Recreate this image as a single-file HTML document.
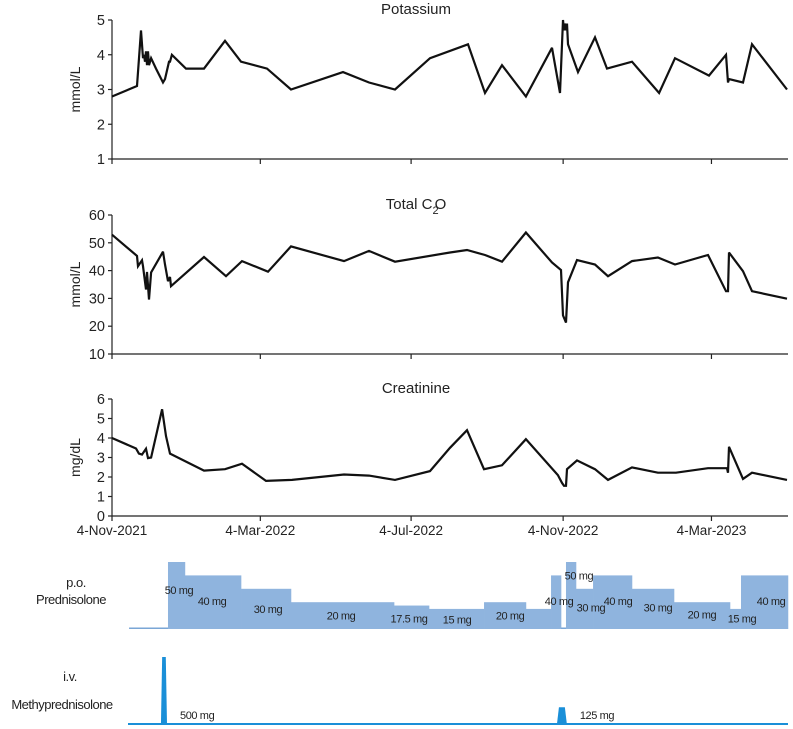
<!DOCTYPE html>
<html><head><meta charset="utf-8">
<style>
html,body{margin:0;padding:0;background:#fff;}
svg{display:block;font-family:"Liberation Sans",sans-serif;}
</style></head>
<body>
<svg id="chart" width="793" height="729" viewBox="0 0 793 729" xmlns="http://www.w3.org/2000/svg"></svg>
<script>
// ---- data (x values are days since 4-Nov-2021) ----
const kDays = [0,20.2,23.5,25.1,25.9,26.7,27.5,28.3,29.1,29.9,31.6,35.6,41.3,42.9,46.1,46.9,48.5,59.9,74.4,91.4,104.4,125.4,144.8,186.9,207.9,229,257.3,288,301.8,315.5,334.9,356,362.5,364.9,365.7,366.5,367.3,368.1,368.9,377,390.8,400.5,420.7,442.6,455.5,483,496.8,498.4,499.2,510.5,517.8,546.1];
const kVals = [2.8,3.1,4.7,3.9,4.0,3.8,4.1,3.7,4.1,3.7,3.9,3.6,3.2,3.3,3.8,3.8,4.0,3.6,3.6,4.4,3.8,3.6,3.0,3.5,3.2,3.0,3.9,4.3,2.9,3.7,2.8,4.2,2.9,5.0,4.7,4.9,4.7,4.9,4.3,3.5,4.5,3.6,3.8,2.9,3.9,3.4,4.0,3.2,3.3,3.2,4.3,3.0];
const co2Days = [0,20.2,21,24.3,25.1,27.5,28.3,29.9,31.6,41.3,42.9,45.3,46.9,47.7,74.4,92.2,105.2,126.2,144.8,187.7,207.9,229,273.5,287.2,301.8,315.5,334.9,356,363.3,364.9,367.3,368.9,376.2,390.8,401.3,420.7,441.7,455.5,482.2,496.8,498.4,499.2,510.5,517.8,546.1];
const co2Vals = [52.9,45.3,41.6,43.7,41.6,33.2,39.5,29.6,39.3,46.8,42.2,36.2,37.7,34.4,44.9,38,43.4,39.6,48.7,43.4,47.1,43.2,46.5,47.4,45.6,43.2,53.7,42.9,40.2,23.9,21.3,35.8,43.8,42.2,38,43.4,44.7,42.2,45.6,32.6,32.6,46.5,39.8,32.6,29.9];
const crDays = [0,19.4,21.8,24.3,27.5,29.1,31.6,40.5,43.7,46.9,74.4,91.4,105.2,124.6,145.6,187.7,207.9,229,257.3,273.5,287.2,301,315.5,334.9,360.8,364.1,365.7,367.3,368.1,376.2,390.8,401.3,420.7,441.7,456.3,482.2,497.6,498.4,499.2,510.5,517.8,546.1];
const crVals = [4.0,3.46,3.2,3.15,3.45,2.97,3.0,5.47,4.1,3.2,2.33,2.4,2.68,1.8,1.85,2.13,2.07,1.85,2.3,3.5,4.4,2.4,2.6,3.94,2.1,1.7,1.55,1.55,2.4,2.85,2.4,1.85,2.49,2.22,2.22,2.45,2.45,2.22,3.55,1.9,2.22,1.85];
const dateTickDays = [0,120,242,365,485];
const dateTickLabels = ["4-Nov-2021","4-Mar-2022","4-Jul-2022","4-Nov-2022","4-Mar-2023"];
const kTicks = [1,2,3,4,5];
const co2Ticks = [10,20,30,40,50,60];
const crTicks = [0,1,2,3,4,5,6];
// prednisolone dose segments: start day, end day, dose mg
const predStart = [13.8,45.3,59,104.4,144.8,228.2,256.5,301,334.9,355.2,363.3,367.3,375.4,389.2,420.7,454.7,500,508.9];
const predEnd   = [45.3,59,104.4,144.8,228.2,256.5,301,334.9,355.2,363.3,367.3,375.4,389.2,420.7,454.7,500,508.9,546.9];
const predDose  = [0,50,40,30,20,17.5,15,20,15,40,0,50,30,40,30,20,15,40];
const predLabels = ["50 mg","40 mg","30 mg","20 mg","17.5 mg","15 mg","20 mg","40 mg","50 mg","30 mg","40 mg","30 mg","20 mg","15 mg","40 mg"];
const predLabelDays = [54.2,81,126.2,185.3,240.3,279.2,322.1,361.7,377.8,387.5,409.4,441.7,477.3,509.7,533.2];
const predLabelDoses = [29,21,15,10,8,7,10,21,40,16,21,16,11,8,21];
const ivDays = [[39.6,44.5],[360,368]];
const ivDose = [500,125];
const ivLabels = ["500 mg","125 mg"];

const NS="http://www.w3.org/2000/svg";
const svg=document.getElementById('chart');
function mk(tag,attrs,parent){const e=document.createElementNS(NS,tag);for(const k in attrs)e.setAttribute(k,attrs[k]);(parent||svg).appendChild(e);return e;}
const X0=112, X1=788;
const xScale=d=>X0+d*1.236;

function panel(name,title,yTitle,ticks,top,bottom,days,vals){
  const g=mk('g',{});
  
  
  const lo=ticks[0],hi=ticks[ticks.length-1];
  const y=v=>bottom-(v-lo)/(hi-lo)*(bottom-top);
  const ax=mk('path',{d:`M${X0},${top} V${bottom} H${X1}`,stroke:'#222',fill:'none','stroke-width':1.2},g);
  
  
  ticks.forEach(t=>{
    mk('line',{x1:X0-4,x2:X0,y1:y(t),y2:y(t),stroke:'#222','stroke-width':1.2},g);
    const tl=mk('text',{x:X0-7,y:y(t)+5,'text-anchor':'end','font-size':14.5,fill:'#222'},g);
    tl.textContent=t;
    
    
  });
  dateTickDays.forEach(d=>mk('line',{x1:xScale(d),x2:xScale(d),y1:bottom,y2:bottom+5,stroke:'#222','stroke-width':1.2},g));
  const yt=mk('text',{transform:`translate(80,${(top+bottom)/2}) rotate(-90)`,'text-anchor':'middle','font-size':14,fill:'#222'},g);
  yt.textContent=yTitle;
  
  
  const tt=mk('text',{x:416,y:top-6,'text-anchor':'middle','font-size':15,fill:'#222'},g);
  
  
  if(Array.isArray(title)){tt.textContent=title[0];const s=mk('tspan',{'font-size':11,dy:5},tt);s.textContent=title[1];const s2=mk('tspan',{dy:-5,dx:-4},tt);s2.textContent=title[2];}
  else tt.textContent=title;
  const pts=days.map((d,i)=>xScale(d).toFixed(1)+','+y(vals[i]).toFixed(1)).join(' ');
  const ln=mk('polyline',{points:pts,fill:'none',stroke:'#111','stroke-width':2.2,'stroke-linejoin':'miter','stroke-miterlimit':3},g);
  
  
}
panel('potassium','Potassium','mmol/L',kTicks,20,159,kDays,kVals);
panel('total-co2',['Total C','2','O'],'mmol/L',co2Ticks,215,354,co2Days,co2Vals);
panel('creatinine','Creatinine','mg/dL',crTicks,399,516,crDays,crVals);

dateTickDays.forEach((d,i)=>{
  const t=mk('text',{x:xScale(d),y:535,'text-anchor':'middle','font-size':13.5,fill:'#222'});
  t.textContent=dateTickLabels[i];
  
  
});

// Prednisolone
const PB=629, pmg=1.34;
const pg=mk('g',{});


predStart.forEach((s,i)=>{
  const x1=xScale(s),x2=xScale(predEnd[i]),h=Math.max(predDose[i]*pmg,1.5);
  const r=mk('rect',{x:x1,y:PB-h,width:x2-x1+0.3,height:h,fill:predDose[i]?'#8fb4de':'#7aa6d6'},pg);
  
  
});
predLabels.forEach((l,i)=>{
  const t=mk('text',{x:xScale(predLabelDays[i]),y:PB-predLabelDoses[i]*pmg+4,'text-anchor':'middle','font-size':11,'letter-spacing':'-0.4',fill:'#222'},pg);
  t.textContent=l;
  
  
});
[['p.o.',76,587],['Prednisolone',71,604]].forEach(a=>{
  const t=mk('text',{x:a[1],y:a[2],'text-anchor':'middle','font-size':13,'letter-spacing':'-0.5',fill:'#222'});
  t.textContent=a[0];
  
  
});

// Methylprednisolone
const IB=724, ivmg=0.134;
const ig=mk('g',{});


const bl=mk('line',{x1:128,x2:X1,y1:IB,y2:IB,stroke:'#1a8fd8','stroke-width':2},ig);


ivDays.forEach((d,i)=>{
  const x1=xScale(d[0]),x2=xScale(d[1]),h=ivDose[i]*ivmg,inset=(x2-x1)*0.2;
  const p=mk('polygon',{points:`${x1},${IB} ${x1+inset},${IB-h} ${x2-inset},${IB-h} ${x2},${IB}`,fill:'#1a8fd8'},ig);
  
  
  const t=mk('text',{x:x2+13,y:719,'font-size':11,'letter-spacing':'-0.4',fill:'#222'},ig);
  t.textContent=ivLabels[i];
  
  
});
[['i.v.',70,681],['Methyprednisolone',62,709]].forEach(a=>{
  const t=mk('text',{x:a[1],y:a[2],'text-anchor':'middle','font-size':13,'letter-spacing':'-0.5',fill:'#222'});
  t.textContent=a[0];
  
  
});
</script>
</body></html>
